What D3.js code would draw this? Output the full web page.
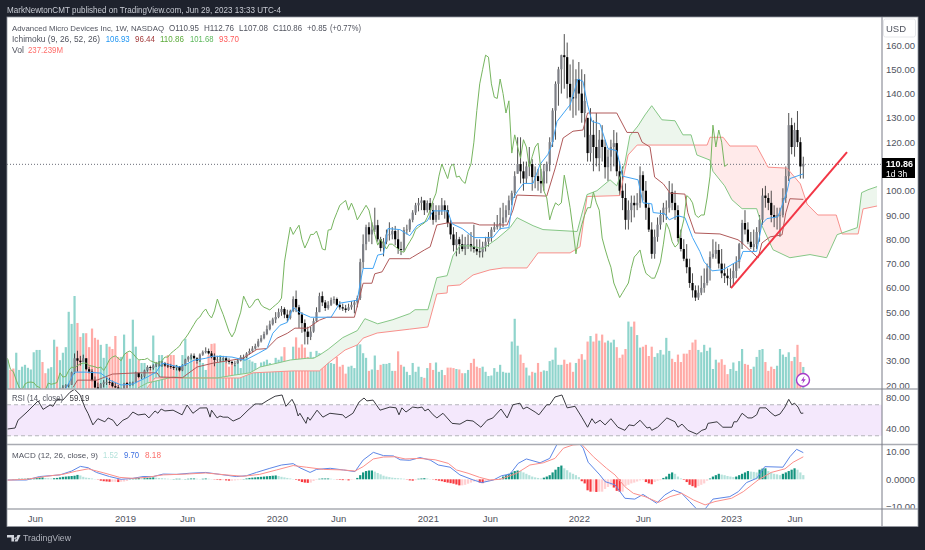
<!DOCTYPE html>
<html>
<head>
<meta charset="utf-8">
<script src="https://cdn.jsdelivr.net/npm/d3@7"></script>
<style>
  html, body { margin: 0; background: #1e222d; overflow: hidden; }
  svg { display: block; filter: blur(0.35px); }
  text { font-family: "Liberation Sans", Arial, sans-serif; }
</style>
</head>
<body>
<svg id="chart" width="925" height="550"></svg>
<script>
// weekly bars, one row = 10 weeks
const closes = [
  10,9.8,9.7,10.9,11.3,12.1,12.8,13,13.4,13.9,
  14.9,16.5,16.2,15,15.4,15.5,16,15.5,18.3,19,
  19.9,20.1,25.2,31,30,29.5,31,26.5,25.5,22,
  19,18,20.4,21.1,21.2,21,19.5,19,17.5,18,
  20.8,20.3,20.6,21,25,23.3,23.5,26,27.4,27,
  28,28.7,29,29,28,27.8,27.5,27,27.4,26,
  28,30.5,31.5,32,31,30,32.5,33.5,34,33,
  31.5,30.3,30.5,30.5,31,30,29.5,29,29,30,
  31.5,31.5,33,34,35,36,38,39.3,41,43,
  45,47,48,50,51.3,49,47.6,50.5,55.4,52,
  49,45.5,42,39.8,42,46.3,50,56.6,54,51.7,
  53,55,55.4,53,52,51.5,50.9,52,53,54,
  55.8,70.6,78,85,82,84,85.8,80,76.4,79,
  82,82,83.4,80,76,75.6,83.8,84,88,91,
  94,95,96,92,94.9,92,88,90,92,94,
  92,86.7,82,77.6,80,78,76,78,78,77,
  76,75,74.7,77,79,81,84,85,86,86.7,
  89,92,96,99,106,111,108,105,110,111,
  105.6,106,104,103,108,111,120,133,144,150,
  155.8,155,144,138.5,138,146,140,132,137,115.5,
  123,118,113.4,121,118,109.7,114,118,119.6,108,
  100,97,88,92,95,94,95,106.4,100,93,
  84,74,81,86,90,93,93,99.4,95,92,
  80.5,76,72,68.5,62,59,56,58,60,62,
  68,72.7,74,75.6,70,66,65,64,64,67,
  70.6,78,86.7,84,79,76.8,78,83,88,98,
  97,95,90,89,90,90,97,106,127,118,
  125,120,110,110.86
];
const highs = [
  11,10.5,10.3,11.2,11.6,12.3,13.2,13.8,13.9,14.2,
  15.2,16.9,17.3,16.4,16,16.2,16.3,16.5,18.8,19.9,
  20.3,20.8,25.5,33,34.1,32,32.5,31,27.5,26.5,
  23.5,21,20.8,22,23.7,23,21.8,21,20,18.8,
  20.9,21.2,21.3,21.4,25.5,25,24.5,26.3,28.1,28,
  28.5,29.5,29.8,29.9,29.5,29,28.7,28,28.2,27.8,
  28.5,30.8,32,33,33,31.5,33,34.2,35.5,35,
  34,33,32,31.5,32,31.8,31,30,30,31,
  32.3,32.5,33.5,35,36,37,39,40.5,42,44.5,
  46.5,47.7,50,51.5,52.5,52,51,51,56.5,58.9,
  53,50,47,44,44,47.5,52,58,58.5,55,
  54.5,56,56.5,56,54.5,53.5,53,53.5,54.5,55,
  56.8,72,82,86,87,87,93,88,81,80.5,
  84,87,85,85.5,84,79,85,86,88.5,92,
  95,97,97.5,96,96,97,95,94,94,97,
  96,94,88,85,83,81,82,81,82,83,
  86,80,80,79,81,83,85,87,90,93,
  95,94,98,100,108,122,122,112,112,118,
  113,110,109,109,111,112,122,134,145,151,
  156,164.5,161,152,154,150,153,150,148,130,
  134,129,132,125,127,121,117,121,125,124,
  112,110,103,96,98,98,99,110,108,104,
  95,87,84,89,92,95,96,104,103,100,
  94,84,80,78,72,66,61,61,65,68,
  70,75,80,79,78,76,70,68,68,70,
  73,78.5,88,92,87,83,84,85,90,101,
  102,99,100,94,93,93,101,110,132,130,
  128,132.8,122,114
];
const lows = [
  9.2,9,9,9.6,10.6,11.2,11.9,12.4,12.6,13.2,
  13.6,14.6,15.6,14.6,14.5,14.8,15,14.8,15.3,18,
  18.7,19,20,24.5,25.5,28,29.5,26,24.8,21.5,
  18.6,16.9,17,19,20,20,19,18.8,16.9,16.9,
  17.2,18.8,19.5,19.8,20.8,22.8,22.5,23,25.5,26,
  26.3,27.4,27.5,27.5,27.5,27,26.7,26.2,26,25.5,
  25.7,27.8,29.5,30.5,30.5,28.8,29.5,32,33,32.5,
  31,27.7,29.5,29.5,30,29,28.5,28.3,27.7,28.8,
  29.7,30.5,31.2,32.5,33.5,34.5,35.5,37.5,38.8,40.5,
  42.5,44.5,45.5,47.5,48.5,47.5,46,47,50,50,
  43.5,41.5,36.7,36.7,38.5,41.5,46,50,52.5,50.5,
  51,52.5,53.5,52.5,51,50.5,49.8,50.5,51,49.5,
  52,55,68,75.5,79,78,83,79,75,73,
  78,79.5,80,77.5,74,73.5,75,82,83,87,
  90,91.5,92,90,91,88,86,87,88,90,
  88.5,85,80,75,73,74,75,73.5,76,75,
  74.5,73.5,72.5,72.5,75,77,79,83,84,84,
  85,87,90,94,97,107,103,100,103,106,
  100,101,100,99,100,103,108,118,121,135,
  140,142,138,133,130,131,133,128,122,112,
  112,108,110,108,112,105,104,108,110,106,
  98,92,84,84,87,89,92,93,96,88,
  83,72,72,79,84,87,88,91,92,88,
  79,75,71,66,60,56,54.6,55,57,58,
  61,63,72,72,68,64,62,61,60,61,
  64,68,76,82,78,76,75,76,79,86,
  93,92,87,85,84,81,89,95,104,115,
  114,118,105,105
];
// volume in millions
const volumes = [
  315,205,220,390,205,240,260,228,210,395,
  420,420,290,170,220,235,530,455,310,390,
  450,830,700,1000,710,560,600,600,450,650,
  550,530,475,335,485,455,430,570,345,345,
  585,390,325,745,455,310,280,280,235,220,
  575,280,365,365,280,365,365,365,260,240,
  365,540,280,365,315,295,335,280,205,365,
  485,490,280,365,335,280,240,280,260,315,
  225,345,350,315,295,280,220,285,295,315,
  280,240,335,315,350,450,280,295,455,555,
  445,480,445,345,400,345,410,385,345,345,
  335,280,270,345,240,260,165,240,250,225,
  520,480,385,335,195,210,360,205,260,270,
  270,280,195,195,405,260,240,185,150,280,
  185,240,130,120,225,280,205,285,185,205,
  150,230,230,225,215,210,170,170,205,280,
  325,240,225,240,185,140,145,225,185,260,
  185,175,175,510,755,465,370,280,230,145,
  185,175,280,185,200,195,300,315,445,260,
  260,315,270,285,185,280,325,375,315,510,
  570,510,595,520,585,500,520,500,530,450,
  335,370,430,725,670,725,580,445,455,475,
  355,455,345,385,420,370,550,410,325,290,
  370,290,380,380,420,500,530,420,395,475,
  410,445,215,315,285,320,260,160,215,285,
  195,300,430,270,260,215,240,345,420,430,
  290,195,240,215,250,430,370,345,395,300,
  345,475,290,237
];
const macdHist = [
  0,0,.1,.1,.2,.2,.2,.3,.3,.4,
  .5,.6,.7,.5,.4,.3,.4,.5,.7,.9,
  1,1.1,1.2,1.3,1.6,1.4,.9,.6,.5,.3,
  .1,-.1,-.5,-.7,-.8,-.9,-.9,-.9,-1,-.9,
  -.8,-.6,.2,.3,.4,.5,.4,.4,.5,.6,
  .7,.6,.5,.4,.3,.2,.1,.1,.2,.2,
  .1,.1,.2,.3,.3,.2,.1,.2,.3,.2,
  .1,-.1,-.2,-.3,-.3,-.4,-.5,-.5,-.4,-.3,
  -.2,.1,.3,.5,.6,.7,.8,.9,1,1.1,
  1.2,1.3,1.4,1.2,.9,.7,.5,.3,.1,-.2,
  -.5,-1,-1.2,-1.3,-1.2,-.6,-.2,.2,.3,.3,
  .3,.2,.1,-.1,-.2,-.3,-.3,-.4,-.2,-.1,
  .5,1.5,2.5,3,3.2,3.2,2.8,2.3,1.8,1.3,
  1,.8,.6,.5,.4,.3,.2,-.1,-.4,-.5,
  -.3,.2,.3,.4,.3,.1,-.1,-.3,-.5,-.7,
  -1,-1.2,-1.4,-1.6,-1.9,-2.2,-2.2,-2,-1.6,-1.2,
  -.8,-.5,-1.2,-1.4,-1,-.7,-.5,-.3,-.1,.2,
  1,1.5,2,2.5,3,3.2,3,2.5,2,1.5,
  1,.7,.5,.3,.6,1,1.5,2.5,3.5,4.5,
  5,4,3.3,2.5,2,1.5,.8,-.7,-1.5,-4,
  -4.5,-4.5,-4.6,-4.5,-4.5,-3.5,-2.8,-2.2,-3,-4.2,
  -4.5,-4.5,-2.5,-2,-1.5,-1.2,-.8,-.4,-.3,-1,
  -1.5,-1.8,-1,-.5,-.3,.5,1,2,2.5,2,
  1,.3,-.2,-1,-2,-2.5,-3,-2.5,-2,-1.5,
  -.5,.3,1,1.5,2,1.7,1.5,1.2,1,.8,
  1,1.5,2,2.5,3,2.8,2.7,2.5,3.5,3.9,
  4,3,2.5,2,1.8,1.5,2,2.5,3,3.5,
  4,3.5,2.5,1.52
];

// indicator lines as [week, value]
const tenkan = [[20,18.4],[23,25.3],[27,25.3],[32,24.9],[35,22],[39,20],[43,20.4],[48,23.3],[51,25.3],[53,29],[59,27.4],[62,29],[64,30.2],[68,31],[70.5,31.9],[77,31.5],[81.5,30.2],[86,33],[89,35],[91,41.3],[93.5,44.6],[96,45.8],[98,52],[100,50],[104,47.9],[111,47.9],[114,53.7],[120,54.9],[121,62],[122,68],[125.4,68],[127,73.5],[129,74],[130.5,84.4],[134.6,84],[138,81.5],[140.5,85.6],[144,87.6],[146,91.7],[151,91.7],[152.5,86.4],[156,84.4],[160,80.7],[166.5,80.7],[169,84.4],[172,84.8],[173.4,96.7],[175,99.9],[177,103],[180.3,103],[182.7,110.9],[185.4,115],[186.8,119],[188.5,128.5],[193,135.4],[195.7,146],[197.4,145],[199,135.4],[200.5,128.5],[203.2,127.6],[206,117.3],[209,116.5],[211,106],[216.3,104.5],[218,95],[221,94.6],[221.5,91],[225.5,90.5],[227,88],[230,89.7],[232.4,88.9],[235,80.7],[237.5,75],[239,70.7],[241.7,67],[245.5,67.5],[251.3,71.6],[252.3,75],[257,75],[258.8,86.4],[260.5,88.5],[264.3,89.3],[267.4,99.6],[268.4,105],[273,106.93]];
const kijun = [[22.5,19],[24,22],[30.7,22],[36,24.5],[44.4,25],[51.3,25],[52.3,23.3],[60,23],[62.6,25.3],[65,27.4],[70.5,29],[80.8,31],[85.6,34.7],[89,35],[92.5,39.3],[96,41.3],[98.6,43.4],[103,43.4],[107,46.7],[109.6,47.9],[119,47.9],[122,61.9],[125,61.9],[126,65.8],[128.5,66.6],[131,72],[138,72],[139,72.7],[143,75.6],[145,76.9],[147.3,85.9],[150.8,86.7],[159.7,86.7],[162,85.9],[171.4,85.9],[173.4,92],[174.8,98.2],[185,97.8],[188,109.7],[190.6,121.7],[194,124.5],[197.4,125],[199,132],[209,132],[212.5,124],[216.3,124],[217.7,120],[220.4,118],[222,105.6],[225,102.8],[227.3,99],[232.4,98.6],[233.4,90.9],[235.8,82.6],[244.4,82.2],[250.6,79.8],[252,78.5],[257.5,72.3],[258.8,78.5],[261.6,81],[265.7,81.8],[267,90.9],[268.4,96.7],[273,96.44]];
const senkouA = [[44.8,18.8],[47.9,20.8],[56.8,23.3],[62.6,22.9],[71.9,22.9],[77.4,24],[83.2,25],[86.6,27.4],[92.5,29],[97,30.3],[102.7,31],[105,31],[107,32.3],[110,34.7],[115,39.5],[120,42.4],[122.6,47.3],[127,45.2],[132.2,46.9],[138,49.4],[139.8,51],[144.2,51],[147.3,64.2],[150.8,65],[152.8,73.2],[155.2,77.3],[158.7,77.3],[163.1,76.1],[167.9,80.2],[172.4,84.8],[174.8,88.9],[180.3,85.6],[183.7,84],[195.4,83.2],[195.7,84.4],[198.8,98.4],[202.2,100],[206.7,104.5],[209,102],[211.8,111.5],[213.5,122.6],[216.3,126.7],[218.7,131.2],[221,135],[224.5,129.2],[229,128.8],[231.7,123],[234.5,123],[236.5,114.7],[241,112.6],[242,108],[246,102],[248.5,96.3],[252,92.6],[257,92.6],[258.8,85.6],[262.6,75.7],[268.4,72.4],[275.3,73.7],[281,72.4],[284.6,81.9],[291.5,84.8],[293,99.2],[295.2,100.4],[298.3,101.68]];
const senkouB = [[47.9,18.8],[50.6,22.9],[79.7,22.9],[84.2,25],[98,25.8],[107,25.8],[110,29],[115.8,34.4],[120,36.5],[122,39.3],[126.8,41.4],[138,43],[144.2,43.9],[147.3,57.5],[150.8,57.9],[151,60.8],[155.2,61.2],[159.7,65.3],[165.5,67.4],[170,68.2],[178.2,68.2],[182,74.4],[193,74.4],[196.4,76.9],[198.8,97.6],[210,98],[212.9,114.7],[216,118.8],[240,118.8],[241,122],[245.5,122],[247.8,118.4],[257,118.4],[260.9,109.7],[267.4,109.3],[272,102.8],[274.3,94.5],[278,90],[284.3,90],[286.3,82.2],[291.8,82.2],[293.5,92.5],[298.3,93.7]];
const trendline = [[248.2,59.9],[288,115.9]];
const rsi = [[0,38.7],[2.6,40],[3.6,50],[6.7,60.6],[10.5,75],[12.2,64],[14.6,69.7],[15.6,68],[17,77],[19,76],[21.4,86],[23,90],[24.9,82.6],[26.6,66],[27.6,59],[29.3,44],[31,52],[33.4,48],[34.5,53],[36.2,50],[37.6,42.6],[39.6,50],[41.3,53],[43,60.6],[44.8,56.8],[47.2,58],[48.5,53],[50.6,62],[51.6,59],[52.7,64.5],[54,62],[56.8,63],[59.9,57],[61.6,69.7],[63.6,59],[66,65.8],[68.4,66],[69.5,54],[70,63],[71.9,53],[72.9,55.5],[74,54],[75.6,54],[77.4,49],[79.8,53],[82.5,63],[84.9,71],[87.3,71],[89.4,76],[91.8,81],[94.2,82.6],[95.5,68],[97.6,77],[98.6,69.7],[99.7,55.5],[100.3,59],[102.4,46],[103,54],[103.8,50],[106.2,63],[108.2,54],[110.6,59],[115,57],[116,53],[118.5,59],[120.6,73.5],[122.3,78.7],[123.3,75],[125.4,76],[127.8,63],[131.2,67],[133.3,66],[134.3,57],[135.3,66],[136.7,60.6],[139,67],[140.8,66],[142.2,67],[143.2,62],[144.3,64.5],[146,57],[147.3,53],[149.4,59],[152.5,46],[155.2,45],[157.6,50],[159.7,49],[162.4,41],[164.5,50],[166.5,53],[169.3,64.5],[171.4,53],[173.4,70],[175.8,72],[176.9,64.5],[178.2,67],[181,60.6],[182.3,57],[185,70],[186,70],[187.8,80],[190.2,82.6],[192,66],[194.7,68],[197,54],[199,41],[200.5,52],[201.6,46],[203.3,50],[205,44],[207,52],[209.4,41],[211.8,37],[213.2,44],[214.9,43],[217,50],[219.4,40],[220.4,41],[221,37],[223,41],[226.2,53],[229,48],[230,41],[231.4,45],[233.4,37],[236.5,32],[238.2,37],[239.6,38.7],[240.3,46],[243.4,48],[245.4,41],[248.5,41],[249.2,48],[250.2,48],[252,59],[254,53],[255.4,53],[257,57],[258,66],[260.2,66],[261.6,60.6],[263.3,55.5],[265,58],[266.7,67],[268,77],[269.1,70],[270,72],[271.2,67],[272.2,59],[273,59.19]];
const macdLine = [[0,-.25],[6.5,-.25],[11,1],[18,1.6],[22,3],[25,4.7],[27.7,4.2],[30.5,2.5],[35,1],[39,0],[43,.35],[46.5,1],[50,1],[53.4,1.9],[58,1.8],[62.5,2.2],[68,2.5],[72.8,1.8],[78.5,1],[82,1.3],[85.4,2.5],[90,4],[94,5.2],[98,5.7],[100.3,4.2],[103.8,2.5],[106,3.6],[110.7,4],[115.2,3.4],[119.2,2.8],[122,7],[125.5,9.8],[129,8.6],[132.4,8.5],[134.7,7.1],[138,6.9],[141.5,7.9],[145,7],[147.8,5.2],[151.8,4.4],[155.2,1.6],[159.8,-.25],[162.7,-1.2],[166.7,-.25],[169.5,1.3],[172.4,1.9],[175.2,5.8],[178,7.4],[182.7,6],[186,7.6],[188.4,12.5],[190.7,15],[195.2,14.3],[197.5,11.3],[199.2,6.2],[203.2,1.6],[205,-.85],[208.4,-2],[211.8,-6.9],[215.2,-7.2],[218,-5.5],[222.7,-8.7],[225.5,-5.7],[228.4,-3.9],[231.3,-5.1],[234,-8.1],[236.4,-10.8],[239.3,-10.8],[242,-7.2],[247.8,-6.3],[250.7,-4.5],[253.5,-1.2],[257,.35],[259.8,4.6],[266,4.4],[268.4,8.2],[270.7,10.9],[273,9.7]];
const macdSignal = [[0,-.3],[6.5,0],[13.4,1.1],[19,1.8],[23.7,3],[27.7,3.8],[32.8,2.4],[38.5,.7],[43,.35],[47.7,.7],[53.4,1.6],[61.4,1.9],[68,2.3],[75,1.6],[80.8,1.1],[86.5,1.8],[92.3,3.4],[98,5],[102.5,4.4],[108.4,3.6],[115.2,3.4],[119.2,3],[122,4.6],[125.5,7.4],[129,8.1],[133,8.2],[136.4,7.4],[141.5,7.6],[146.7,7.1],[151.2,5.8],[154,3.4],[158,2.2],[162,.7],[165.5,-.25],[169,0],[174.7,2.2],[179.2,5.2],[183.8,6],[187.8,7.6],[190.7,11.3],[194,12.5],[197,12.7],[201,8.2],[205.5,4],[208.4,1.6],[211.8,-2.7],[214.7,-5.1],[218.7,-6.3],[223.3,-8.4],[227.3,-6.3],[231.3,-5.1],[235.3,-7.5],[239.3,-9.3],[242.7,-8.1],[248.4,-6.9],[252.4,-4.5],[257.5,-.25],[262,2.5],[266.7,3.8],[269.5,6.2],[273,8.18]];

// 110.00 sits under the last price tag in the reference
const priceTicks = [20,30,40,50,60,70,80,90,100,120,130,140,150,160];
const rsiTicks = [40,80];
const macdTicks = [-10,0,10];
const timeTicks = [9.4,40.3,61.6,92.4,113.4,144.2,165.5,196,218,248.2,270];
const timeLabels = ["Jun","2019","Jun","2020","Jun","2021","Jun","2022","Jun","2023","Jun"];
const lastPrice = 110.86;

const paneLeft = 7, paneRight = 882, paneTop = 17, paneBottom = 526.5, outerRight = 918;
const mainBottom = 389, rsiBottom = 444.5, macdBottom = 509;

const svg = d3.select("#chart");

const x = d3.scaleLinear().domain([0, 273]).range([7.5, 803.3]);
const y = d3.scaleLinear().domain([20, 160]).range([385, 45]);
const yVol = d3.scaleLinear().domain([0, 1000]).range([mainBottom, 296]);
const yRsi = d3.scaleLinear().domain([40, 80]).range([428, 397]);
const yMacd = d3.scaleLinear().domain([-10, 10]).range([506.8, 451.8]);

const bars = closes.map((c, i) => {
  const prev = i ? closes[i - 1] : c;
  return { i, c, h: highs[i], l: lows[i], o: Math.max(lows[i], Math.min(highs[i], prev)), up: c >= prev };
});

// frame
svg.append("rect").attr("x", paneLeft).attr("y", paneTop)
  .attr("width", outerRight - paneLeft).attr("height", paneBottom - paneTop).attr("fill", "#fff");

const defs = svg.append("defs");
function clip(id, x0, y0, x1, y1) {
  defs.append("clipPath").attr("id", id).append("rect")
    .attr("x", x0).attr("y", y0).attr("width", x1 - x0).attr("height", y1 - y0);
}
clip("mainClip", paneLeft, paneTop, paneRight, mainBottom);
clip("rsiClip", paneLeft, mainBottom, paneRight, rsiBottom);
clip("macdClip", paneLeft, rsiBottom, paneRight, macdBottom);
clip("macdAxisClip", paneRight, rsiBottom, outerRight, macdBottom);

const line = d3.line().x(d => x(d[0])).y(d => y(d[1]));

// main pane
const main = svg.append("g").attr("clip-path", "url(#mainClip)");

main.append("g").selectAll("rect").data(volumes).join("rect")
  .attr("x", (d, i) => x(i) - 1.1).attr("width", 2.2)
  .attr("y", d => yVol(d)).attr("height", d => mainBottom - yVol(d))
  .attr("fill", (d, i) => bars[i].up ? "#8fd4cc" : "#ffaaa6");

// cloud: the A/B polygon split in two by the span B line
defs.append("clipPath").attr("id", "aboveB").append("path")
  .attr("d", d3.area().x(d => x(d[0])).y0(paneTop).y1(d => y(d[1]))(senkouB));
defs.append("clipPath").attr("id", "belowB").append("path")
  .attr("d", d3.area().x(d => x(d[0])).y0(mainBottom).y1(d => y(d[1]))(senkouB));
const cloud = senkouA.concat(senkouB.slice().reverse());
main.append("path").attr("d", line(cloud) + "Z").attr("fill", "#edf6ed").attr("fill-rule", "evenodd")
  .attr("clip-path", "url(#aboveB)");
main.append("path").attr("d", line(cloud) + "Z").attr("fill", "#ffeaea").attr("fill-rule", "evenodd")
  .attr("clip-path", "url(#belowB)");

// last price line
main.append("line").attr("x1", paneLeft).attr("x2", paneRight)
  .attr("y1", y(lastPrice)).attr("y2", y(lastPrice))
  .attr("stroke", "#6a6d78").attr("stroke-width", 1).attr("stroke-dasharray", "1 2");

const candles = main.append("g").selectAll("g").data(bars).join("g");
candles.append("line")
  .attr("x1", d => x(d.i)).attr("x2", d => x(d.i))
  .attr("y1", d => y(d.h)).attr("y2", d => y(d.l))
  .attr("stroke", "#222").attr("stroke-width", 0.8);
candles.append("rect")
  .attr("x", d => x(d.i) - 1.1).attr("width", 2.2)
  .attr("y", d => y(Math.max(d.o, d.c)))
  .attr("height", d => Math.max(0.8, Math.abs(y(d.o) - y(d.c))))
  .attr("fill", d => d.up ? "#7d7f86" : "#000");

function drawLine(data, color, width) {
  main.append("path").attr("d", line(data)).attr("fill", "none")
    .attr("stroke", color).attr("stroke-width", width || 1).attr("stroke-linejoin", "round");
}
drawLine(senkouB, "#f8908c");
drawLine(senkouA, "#86c786");
drawLine(kijun, "#b05a5a");
drawLine(tenkan, "#42a5f5");
// lagging span: closes moved back 26 weeks
drawLine(closes.slice(26).map((c, i) => [i, c]), "#77b560");
drawLine(trendline, "#f23645", 2);

// rsi pane
const rsiPane = svg.append("g").attr("clip-path", "url(#rsiClip)");
rsiPane.append("rect").attr("x", paneLeft).attr("width", paneRight - paneLeft)
  .attr("y", yRsi(70)).attr("height", yRsi(30) - yRsi(70)).attr("fill", "#f4e8fc");
[70, 30].forEach(v => {
  rsiPane.append("line").attr("x1", paneLeft).attr("x2", paneRight).attr("y1", yRsi(v)).attr("y2", yRsi(v))
    .attr("stroke", "#b5b5bb").attr("stroke-dasharray", "4 3");
});
rsiPane.append("path").datum(rsi)
  .attr("d", d3.line().x(d => x(d[0])).y(d => yRsi(d[1])))
  .attr("fill", "none").attr("stroke", "#3a3a40").attr("stroke-width", 1);

// macd pane
const macdPane = svg.append("g").attr("clip-path", "url(#macdClip)");
macdPane.append("g").selectAll("rect").data(macdHist).join("rect")
  .attr("x", (d, i) => x(i) - 1.1).attr("width", 2.2)
  .attr("y", d => Math.min(yMacd(d), yMacd(0)))
  .attr("height", d => Math.abs(yMacd(d) - yMacd(0)))
  .attr("fill", (d, i) => {
    const rising = i === 0 || d >= macdHist[i - 1];
    if (d >= 0) return rising ? "#14947f" : "#b4e2db";
    return rising ? "#ffd0d2" : "#f8393f";
  });
const macdPath = d3.line().x(d => x(d[0])).y(d => yMacd(d[1]));
macdPane.append("path").attr("d", macdPath(macdLine)).attr("fill", "none").attr("stroke", "#5c86e6");
macdPane.append("path").attr("d", macdPath(macdSignal)).attr("fill", "none").attr("stroke", "#fb8f8a");

// axes
function styleAxis(g) {
  g.select(".domain").remove();
  g.selectAll(".tick line").remove();
  g.attr("font-family", null);
  g.selectAll("text").attr("fill", "#50535e").attr("font-size", 9.5);
}
svg.append("g").attr("transform", `translate(${paneRight},0)`)
  .call(d3.axisRight(y).tickValues(priceTicks).tickSize(0).tickPadding(4).tickFormat(d3.format(".2f")))
  .call(styleAxis);
svg.append("g").attr("transform", `translate(${paneRight},0)`)
  .call(d3.axisRight(yRsi).tickValues(rsiTicks).tickSize(0).tickPadding(4).tickFormat(d3.format(".2f")))
  .call(styleAxis);
svg.append("g").attr("clip-path", "url(#macdAxisClip)").append("g").attr("transform", `translate(${paneRight},0)`)
  .call(d3.axisRight(yMacd).tickValues(macdTicks).tickSize(0).tickPadding(4)
    .tickFormat(d => d === 0 ? "0.0000" : d3.format(".2f")(d)))
  .call(styleAxis);
svg.append("g").attr("transform", `translate(0,${macdBottom + 3})`)
  .call(d3.axisBottom(x).tickValues(timeTicks).tickSize(0).tickPadding(3).tickFormat((d, i) => timeLabels[i]))
  .call(styleAxis);

// pane separators and borders
const rule = "#a9abb2";
[mainBottom, rsiBottom, macdBottom].forEach(v => {
  svg.append("line").attr("x1", paneLeft).attr("x2", outerRight).attr("y1", v).attr("y2", v)
    .attr("stroke", rule).attr("stroke-width", 1.5);
});
svg.append("line").attr("x1", paneRight).attr("x2", paneRight).attr("y1", paneTop).attr("y2", paneBottom)
  .attr("stroke", "#787b86").attr("stroke-width", 1);
svg.append("rect").attr("x", paneLeft).attr("y", paneTop).attr("width", outerRight - paneLeft).attr("height", paneBottom - paneTop)
  .attr("fill", "none").attr("stroke", "#9598a1").attr("stroke-width", 0.8);

svg.append("rect").attr("x", 883.5).attr("y", 19).attr("width", 32).attr("height", 18).attr("rx", 2)
  .attr("fill", "#fff").attr("stroke", "#e6e7ea");
svg.append("text").attr("x", 886).attr("y", 31.5).attr("font-size", 9.5).attr("fill", "#50535e").text("USD");

// last price tag
svg.append("rect").attr("x", paneRight).attr("y", 158).attr("width", 33).attr("height", 20).attr("fill", "#000");
svg.append("text").attr("x", 886).attr("y", 167).attr("font-size", 9).attr("font-weight", "bold").attr("fill", "#fff").text("110.86");
svg.append("text").attr("x", 886).attr("y", 176.8).attr("font-size", 8.5).attr("fill", "#fff").text("1d 3h");

// bolt badge
svg.append("circle").attr("cx", 803).attr("cy", 380).attr("r", 6.5)
  .attr("fill", "#fff").attr("stroke", "#a53cc8").attr("stroke-width", 1.4);
svg.append("path").attr("d", "M804.5 376l-3.5 4.8h2.2l-1 3.2 3.5-4.8h-2.2z").attr("fill", "#a53cc8");

// header, legends, footer: widths follow the reference font
function label(px, py, txt, width, color, size) {
  return svg.append("text").attr("x", px).attr("y", py).attr("font-size", size || 8.8)
    .attr("fill", color || "#50535e").attr("textLength", width).attr("lengthAdjust", "spacingAndGlyphs").text(txt);
}
label(7, 13, "MarkNewtonCMT published on TradingView.com, Jun 29, 2023 13:33 UTC-4", 274, "#c9ccd4", 8.2);

label(12, 30.5, "Advanced Micro Devices Inc, 1W, NASDAQ", 152, null, 8.1);
label(169, 30.5, "O110.95", 30);
label(204, 30.5, "H112.76", 30);
label(239, 30.5, "L107.08", 29);
label(273, 30.5, "C110.86", 29);
label(307, 30.5, "+0.85", 20);
label(330, 30.5, "(+0.77%)", 31);

label(12, 41.5, "Ichimoku (9, 26, 52, 26)", 88);
label(105.7, 41.5, "106.93", 24, "#2196f3");
label(135, 41.5, "96.44", 20, "#a33c3c");
label(160, 41.5, "110.86", 24, "#5cab3a");
label(190, 41.5, "101.68", 23.5, "#5cb85c");
label(219, 41.5, "93.70", 20, "#ff5a5a");

label(12, 53, "Vol", 12);
label(28, 53, "237.239M", 35, "#ff6e6a");

label(12, 401, "RSI (14, close)", 51, null, 8.2);
label(69.5, 401, "59.19", 20, "#3a3a40");

label(12, 457.7, "MACD (12, 26, close, 9)", 86, null, 7.9);
label(103, 457.7, "1.52", 15, "#b4e2db");
label(124, 457.7, "9.70", 15, "#3d6fe0");
label(145, 457.7, "8.18", 16, "#fb6f6a");

// logo
svg.append("path").attr("d", "M7 535h7v6.5h-2.6v-4h-4.4zM15.5 537.2a1.2 1.2 0 1 0 .01 0zM17.5 535h3l-3 6.5h-3z").attr("fill", "#d1d4dc");
label(23, 541, "TradingView", 48, "#b2b5be", 9.8);
</script>
</body>
</html>
